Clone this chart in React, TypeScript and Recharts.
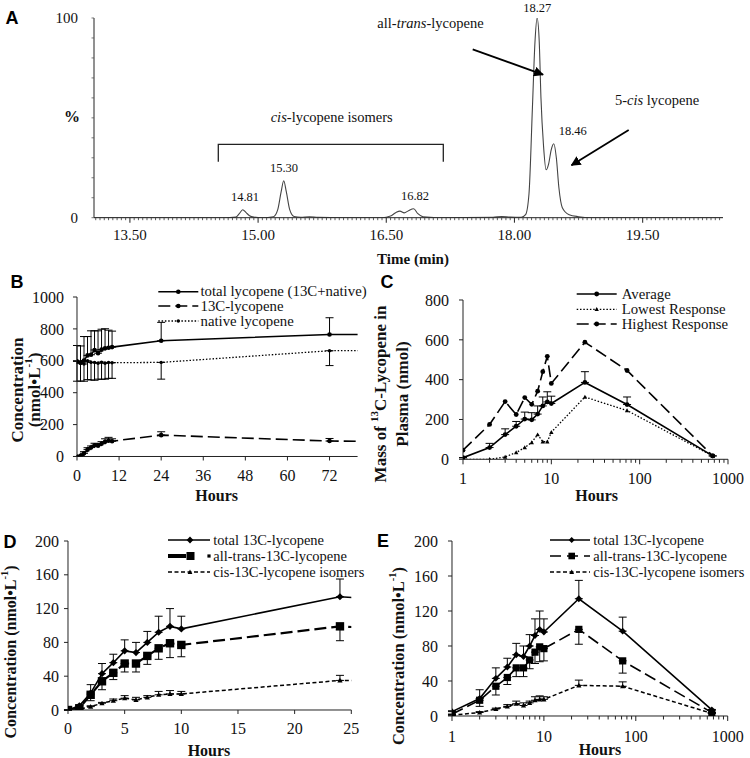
import React from 'react';
import { LineChart, Line, XAxis, YAxis, ErrorBar } from 'recharts';

const SERIF = '"Liberation Serif", "Times New Roman", serif';
const SANS = '"Liberation Sans", Arial, sans-serif';

// ---------- Panel A: chromatogram (time min, % intensity) ----------
const chromatogram: [number, number][] = [
  [13.08, 0], [14.6, 0], [14.74, 0.3], [14.78, 2], [14.82, 4], [14.86, 2.5], [14.9, 1], [14.95, 0.3],
  [15.05, 0], [15.18, 0.5], [15.23, 4], [15.27, 13], [15.3, 18.5], [15.33, 13], [15.37, 4], [15.42, 0.6],
  [15.5, 0.2], [15.6, 0.5], [15.7, 0.2], [16.0, 0], [16.45, 0], [16.55, 0.8], [16.61, 2.5], [16.66, 3.3],
  [16.71, 2.4], [16.76, 3.5], [16.82, 4.5], [16.87, 2], [16.93, 0.4], [17.1, 0], [17.75, 0.2], [17.85, 0.6],
  [17.95, 0.3], [18.08, 0.2], [18.13, 1.5], [18.17, 12], [18.21, 55], [18.24, 88], [18.265, 100], [18.29, 88],
  [18.31, 60], [18.34, 36], [18.37, 24], [18.4, 27], [18.43, 34], [18.46, 37], [18.49, 30], [18.52, 15],
  [18.56, 5], [18.64, 1.5], [18.75, 0.5], [18.9, 0], [20.44, 0],
];
const chromMajorTicks = [13.5, 15, 16.5, 18, 19.5];

// ---------- Panel B ----------
const hoursB = [0, 1, 2, 3, 4, 5, 6, 7, 8, 9, 10, 24, 72, 672];
const totalLyc = [596, 588, 602, 634, 638, 668, 648, 670, 678, 682, 686, 726, 765, 768];
const totalLycErrUp = [100, 105, 150, 118, 150, 120, 140, 128, 123, 110, 100, 115, 105, 0];
const c13Lyc = [0, 5, 20, 43, 56, 70, 68, 80, 92, 99, 96, 134, 97, 7];
const c13LycErrUp = [0, 1, 10, 12, 10, 13, 12, 13, 19, 21, 15, 21, 16, 0];
const nativeLyc = [600, 585, 580, 600, 590, 590, 585, 592, 585, 590, 588, 590, 663, 760];
const nativeLycErrDown = [128, 112, 108, 118, 110, 112, 100, 108, 100, 100, 98, 105, 93, 0];
const ticksB_X = [0, 12, 24, 36, 48, 60, 72];
const ticksB_Y = [0, 200, 400, 600, 800, 1000];

// ---------- Panel C ----------
const hoursC = [1, 2, 3, 4, 5, 6, 7, 8, 9, 10, 24, 72, 672];
const avgMass = [8, 59, 124, 166, 202, 198, 227, 268, 288, 280, 386, 275, 17];
const avgMassErrUp = [0, 21, 29, 24, 35, 36, 41, 45, 51, 37, 54, 38, 0];
const lowMass = [0, 0, 12, 34, 59, 85, 124, 88, 88, 136, 313, 245, 17];
const highMass = [46, 175, 290, 225, 310, 276, 342, 440, 517, 381, 588, 446, 17];
const ticksC_Y = [0, 200, 400, 600, 800];

// ---------- Panels D & E ----------
const hoursDE = [0, 1, 2, 3, 4, 5, 6, 7, 8, 9, 10, 24, 72, 672];
const total13C = [0, 5, 20, 43, 56, 70, 68, 80, 92, 99, 96, 134, 97, 7];
const total13CErrUp = [0, 1, 10, 12, 10, 13, 12, 13, 19, 21, 15, 21, 16, 0];
const allTrans13C = [0, 2, 18, 34, 44, 55, 55, 64, 73, 79, 77, 99, 63, 4];
const allTrans13CErrDown = [0, 0, 7, 10, 8, 10, 10, 10, 13, 17, 14, 17, 14, 0];
const cis13C = [0, 1, 4, 8, 11, 14, 12, 15, 18, 19, 19, 35, 34, 3];
const cis13CErrUp = [0, 0, 1, 1, 2, 3, 3, 2, 4, 4, 3, 6, 5, 0];
const ticksD_X = [0, 5, 10, 15, 20, 25];
const ticksDE_Y = [0, 40, 80, 120, 160, 200];
const logMajor = [1, 10, 100, 1000];

// ---------- derived tables ----------
const chromData = chromatogram.map(([t, p]) => ({ t, p }));
const chromTicksX: number[] = [];
for (let k = 262; k <= 408; k++) chromTicksX.push(k / 20);
const chromTicksY: number[] = [];
for (let k = 0; k <= 100; k += 10) chromTicksY.push(k);
const logTicks: number[] = [];
[1, 10, 100].forEach((d) => { for (let m = 1; m <= 9; m++) logTicks.push(d * m); });
logTicks.push(1000);

const dataB = hoursB.map((h, i) => ({
  h,
  total: totalLyc[i], totalErr: [0, totalLycErrUp[i]],
  c13: c13Lyc[i], c13Err: [0, c13LycErrUp[i]],
  native: nativeLyc[i], nativeErr: [nativeLycErrDown[i], 0],
}));
const dataC = hoursC.map((h, i) => ({
  h, avg: avgMass[i], avgErr: [0, avgMassErrUp[i]], low: lowMass[i], high: highMass[i],
}));
const dataD = hoursDE.map((h, i) => ({
  h,
  total: total13C[i], totalErr: [0, total13CErrUp[i]],
  trans: allTrans13C[i], transErr: [allTrans13CErrDown[i], 0],
  cis: cis13C[i], cisErr: [0, cis13CErrUp[i]],
}));
const dataE = dataD.filter((d) => d.h > 0);

// ---------- helpers ----------
type Shape = 'circle' | 'diamond' | 'square' | 'triangle';
function shapeEl(shape: Shape, cx: number, cy: number, s: number) {
  if (shape === 'circle') return <circle cx={cx} cy={cy} r={s} fill="#000" />;
  if (shape === 'diamond')
    return <path d={`M${cx},${cy - s}L${cx + s},${cy}L${cx},${cy + s}L${cx - s},${cy}Z`} fill="#000" />;
  if (shape === 'square') return <rect x={cx - s} y={cy - s} width={2 * s} height={2 * s} fill="#000" />;
  return <path d={`M${cx},${cy - s}L${cx + s},${cy + s * 0.8}L${cx - s},${cy + s * 0.8}Z`} fill="#000" />;
}
const mkDot = (shape: Shape, s: number, maxX: number) => (props: any) => {
  const { cx, cy, index, payload } = props;
  if (cx == null || cy == null || !payload || payload.h > maxX) return <g key={`d${index}`} />;
  return <g key={`d${index}`}>{shapeEl(shape, cx, cy, s)}</g>;
};

const WY = 60, HX = 34, MT = 12, MR = 16;
function Panel(props: { px0: number; px1: number; py0: number; py1: number; data: any[]; children: any }) {
  const { px0, px1, py0, py1, data, children } = props;
  const width = px1 - px0 + WY + MR;
  const height = py1 - py0 + MT + HX;
  return (
    <div style={{ position: 'absolute', left: px0 - WY, top: py0 - MT }}>
      <LineChart width={width} height={height} data={data} margin={{ top: MT, right: MR, bottom: 0, left: 0 }}>
        {children}
      </LineChart>
    </div>
  );
}

const AX = { stroke: '#222', strokeWidth: 1 };
const tickFont = { fontSize: 16, fill: '#111', fontFamily: SERIF };

const ChromTickX = (p: any) => {
  const v = p.payload.value;
  const major = chromMajorTicks.some((m) => Math.abs(m - v) < 1e-6);
  return (
    <g>
      <line x1={p.x} x2={p.x} y1={p.y} y2={p.y + (major ? 5 : 2.5)} stroke="#333" strokeWidth={major ? 1.1 : 0.8} />
      {major && (
        <text x={p.x} y={p.y + 22.5} textAnchor="middle" fontSize={15} fontFamily={SERIF} fill="#111">
          {v.toFixed(2)}
        </text>
      )}
    </g>
  );
};
const ChromTickY = (p: any) => {
  const v = p.payload.value;
  const lab = v === 0 || v === 100;
  return (
    <g>
      <line x1={p.x - 2.5} x2={p.x} y1={p.y} y2={p.y} stroke="#555" strokeWidth={0.8} />
      {lab && (
        <text x={p.x - 16} y={p.y + 5} textAnchor="end" fontSize={15} fontFamily={SERIF} fill="#111">
          {v}
        </text>
      )}
    </g>
  );
};
const mkLogTick = (off: number) => (p: any) => {
  const v = p.payload.value;
  const major = logMajor.includes(v);
  return (
    <g>
      <line x1={p.x} x2={p.x} y1={p.y} y2={p.y + (major ? 5 : 3.5)} stroke="#222" strokeWidth={1} />
      {major && (
        <text x={p.x} y={p.y + off} textAnchor="middle" fontSize={16} fontFamily={SERIF} fill="#111">
          {v}
        </text>
      )}
    </g>
  );
};

function LegendRow(p: { x1: number; x2: number; xm: number; xt: number; y: number; dash?: string; sw?: number; shape: Shape; s: number; label: string; fs?: number }) {
  return (
    <g>
      <line x1={p.x1} x2={p.x2} y1={p.y} y2={p.y} stroke="#000" strokeWidth={p.sw ?? 1.6} strokeDasharray={p.dash} />
      {shapeEl(p.shape, p.xm, p.y, p.s)}
      <text x={p.xt} y={p.y + 4.5} fontSize={p.fs ?? 14.8} fontFamily={SERIF} fill="#111">{p.label}</text>
    </g>
  );
}

function VText(p: { x: number; y: number; children: any; fs?: number }) {
  return (
    <text x={p.x} y={p.y} transform={`rotate(-90 ${p.x} ${p.y})`} textAnchor="middle" dominantBaseline="central"
      fontSize={p.fs ?? 17} fontWeight="bold" fontFamily={SERIF} fill="#111">
      {p.children}
    </text>
  );
}

const DASH = '12 5';
const SHORT = '4 2.5';
const DOT = '1.5 1.8';

export default function App() {
  return (
    <div style={{ position: 'absolute', left: 0, top: 0, width: 750, height: 758, background: '#fff', overflow: 'hidden' }}>
      {/* Panel A */}
      <Panel px0={94.3} px1={723.3} py0={18.3} py1={218} data={chromData}>
        <XAxis type="number" dataKey="t" domain={[13.08, 20.44]} ticks={chromTicksX} interval={0} tickSize={0} tickMargin={0}
          tickLine={false} axisLine={AX} tick={ChromTickX} height={HX} allowDataOverflow />
        <YAxis type="number" domain={[0, 100]} ticks={chromTicksY} interval={0} tickSize={0} tickMargin={0}
          tickLine={false} axisLine={AX} tick={ChromTickY} width={WY} allowDataOverflow />
        <Line type="monotone" dataKey="p" stroke="#444" strokeWidth={1.1} dot={false} isAnimationActive={false} />
      </Panel>

      {/* Panel B */}
      <Panel px0={76.7} px1={357.3} py0={296.5} py1={456} data={dataB}>
        <XAxis type="number" dataKey="h" domain={[0, 80]} ticks={ticksB_X} interval={0} tickSize={4} tickMargin={9}
          tick={tickFont} axisLine={AX} tickLine={AX} height={HX} allowDataOverflow />
        <YAxis type="number" domain={[0, 1000]} ticks={ticksB_Y} interval={0} tickSize={4} tickMargin={9}
          tick={tickFont} axisLine={AX} tickLine={AX} width={WY} allowDataOverflow />
        <Line dataKey="native" stroke="#000" strokeWidth={1.3} strokeDasharray={DOT} dot={mkDot('circle', 1.7, 80)} isAnimationActive={false}>
          <ErrorBar dataKey="nativeErr" width={4} stroke="#000" strokeWidth={1} direction="y" />
        </Line>
        <Line dataKey="c13" stroke="#000" strokeWidth={1.6} strokeDasharray={DASH} dot={mkDot('circle', 2.3, 80)} isAnimationActive={false}>
          <ErrorBar dataKey="c13Err" width={4} stroke="#000" strokeWidth={1} direction="y" />
        </Line>
        <Line dataKey="total" stroke="#000" strokeWidth={1.6} dot={mkDot('circle', 2.3, 80)} isAnimationActive={false}>
          <ErrorBar dataKey="totalErr" width={4} stroke="#000" strokeWidth={1} direction="y" />
        </Line>
      </Panel>

      {/* Panel C */}
      <Panel px0={463.3} px1={728.3} py0={300} py1={459.3} data={dataC}>
        <XAxis type="number" dataKey="h" scale="log" domain={[1, 1000]} ticks={logTicks} interval={0} tickSize={0} tickMargin={0}
          tickLine={false} tick={mkLogTick(24.6)} axisLine={AX} height={HX} allowDataOverflow />
        <YAxis type="number" domain={[0, 800]} ticks={ticksC_Y} interval={0} tickSize={4} tickMargin={10}
          tick={tickFont} axisLine={AX} tickLine={AX} width={WY} allowDataOverflow />
        <Line dataKey="low" stroke="#000" strokeWidth={1.3} strokeDasharray={DOT} dot={mkDot('triangle', 2.2, 1000)} isAnimationActive={false} />
        <Line dataKey="high" stroke="#000" strokeWidth={1.6} strokeDasharray={DASH} dot={mkDot('circle', 2.4, 1000)} isAnimationActive={false} />
        <Line dataKey="avg" stroke="#000" strokeWidth={1.6} dot={mkDot('circle', 2.4, 1000)} isAnimationActive={false}>
          <ErrorBar dataKey="avgErr" width={4} stroke="#000" strokeWidth={1} direction="y" />
        </Line>
      </Panel>

      {/* Panel D */}
      <Panel px0={67.7} px1={351} py0={541} py1={710} data={dataD}>
        <XAxis type="number" dataKey="h" domain={[0, 25]} ticks={ticksD_X} interval={0} tickSize={4} tickMargin={9}
          tick={tickFont} axisLine={AX} tickLine={AX} height={HX} allowDataOverflow />
        <YAxis type="number" domain={[0, 200]} ticks={ticksDE_Y} interval={0} tickSize={4} tickMargin={5}
          tick={tickFont} axisLine={AX} tickLine={AX} width={WY} allowDataOverflow />
        <Line dataKey="cis" stroke="#000" strokeWidth={1.5} strokeDasharray={SHORT} dot={mkDot('triangle', 2.6, 25)} isAnimationActive={false}>
          <ErrorBar dataKey="cisErr" width={4} stroke="#000" strokeWidth={1} direction="y" />
        </Line>
        <Line dataKey="trans" stroke="#000" strokeWidth={2.2} strokeDasharray={DASH} dot={mkDot('square', 4.2, 25)} isAnimationActive={false}>
          <ErrorBar dataKey="transErr" width={4} stroke="#000" strokeWidth={1} direction="y" />
        </Line>
        <Line dataKey="total" stroke="#000" strokeWidth={1.6} dot={mkDot('diamond', 3.6, 25)} isAnimationActive={false}>
          <ErrorBar dataKey="totalErr" width={4} stroke="#000" strokeWidth={1} direction="y" />
        </Line>
      </Panel>

      {/* Panel E */}
      <Panel px0={452} px1={727.7} py0={541} py1={716} data={dataE}>
        <XAxis type="number" dataKey="h" scale="log" domain={[1, 1000]} ticks={logTicks} interval={0} tickSize={0} tickMargin={0}
          tickLine={false} tick={mkLogTick(26.3)} axisLine={AX} height={HX} allowDataOverflow />
        <YAxis type="number" domain={[0, 200]} ticks={ticksDE_Y} interval={0} tickSize={4} tickMargin={10}
          tick={tickFont} axisLine={AX} tickLine={AX} width={WY} allowDataOverflow />
        <Line dataKey="cis" stroke="#000" strokeWidth={1.5} strokeDasharray={SHORT} dot={mkDot('triangle', 2.6, 1000)} isAnimationActive={false}>
          <ErrorBar dataKey="cisErr" width={4} stroke="#000" strokeWidth={1} direction="y" />
        </Line>
        <Line dataKey="trans" stroke="#000" strokeWidth={1.6} strokeDasharray={DASH} dot={mkDot('square', 3.6, 1000)} isAnimationActive={false}>
          <ErrorBar dataKey="transErr" width={4} stroke="#000" strokeWidth={1} direction="y" />
        </Line>
        <Line dataKey="total" stroke="#000" strokeWidth={1.6} dot={mkDot('diamond', 3.4, 1000)} isAnimationActive={false}>
          <ErrorBar dataKey="totalErr" width={4} stroke="#000" strokeWidth={1} direction="y" />
        </Line>
      </Panel>

      {/* Overlay: titles, legends, annotations */}
      <svg width={750} height={758} style={{ position: 'absolute', left: 0, top: 0, pointerEvents: 'none' }}>
        <defs>
          <marker id="arrowHead" viewBox="0 0 10 10" refX="9" refY="5" markerWidth="5.5" markerHeight="5.5" orient="auto-start-reverse" markerUnits="strokeWidth">
            <path d="M0,0 L10,5 L0,10 Z" fill="#000" />
          </marker>
        </defs>
        {/* panel letters */}
        <g fontFamily={SANS} fontWeight="bold" fontSize={18} fill="#000">
          <text x={12} y={24} textAnchor="middle">A</text>
          <text x={17} y={288} textAnchor="middle">B</text>
          <text x={387} y={288} textAnchor="middle">C</text>
          <text x={10} y={548} textAnchor="middle">D</text>
          <text x={383} y={547} textAnchor="middle">E</text>
        </g>

        {/* Panel A annotations */}
        <text x={72} y={122} textAnchor="middle" fontFamily={SERIF} fontWeight="bold" fontSize={16} fill="#111">%</text>
        <text x={413} y={264} textAnchor="middle" fontFamily={SERIF} fontWeight="bold" fontSize={15} fill="#111">Time (min)</text>
        <g fontFamily={SERIF} fontSize={12.5} fill="#111" textAnchor="middle">
          <text x={537.3} y={11.5}>18.27</text>
          <text x={572.7} y={134.5}>18.46</text>
          <text x={284} y={172}>15.30</text>
          <text x={245} y={201}>14.81</text>
          <text x={415} y={200}>16.82</text>
        </g>
        <g fontFamily={SERIF} fontSize={14.5} fill="#111" textAnchor="middle">
          <text x={430.5} y={27.5}>all-<tspan fontStyle="italic">trans</tspan>-lycopene</text>
          <text x={657} y={105}>5-<tspan fontStyle="italic">cis</tspan> lycopene</text>
          <text x={331.7} y={121.5}><tspan fontStyle="italic">cis</tspan>-lycopene isomers</text>
        </g>
        <path d="M218.3,161.7 V144.3 H443.3 V161.7" fill="none" stroke="#222" strokeWidth={1.3} />
        <line x1={472.7} y1={49.3} x2={543} y2={74.6} stroke="#000" strokeWidth={1.8} markerEnd="url(#arrowHead)" />
        <line x1={628.7} y1={130} x2={571.5} y2={165.2} stroke="#000" strokeWidth={1.8} markerEnd="url(#arrowHead)" />

        {/* Panel B titles & legend */}
        <VText x={17} y={390}>Concentration</VText>
        <VText x={34} y={390}>(nmol•L<tspan dy={-6} fontSize={11}>-1</tspan><tspan dy={6}>)</tspan></VText>
        <text x={216.7} y={500.5} textAnchor="middle" fontFamily={SERIF} fontWeight="bold" fontSize={16} fill="#111">Hours</text>
        <LegendRow x1={158.3} x2={198.3} xm={178.3} xt={200.5} y={291.7} shape="circle" s={2.3} label="total lycopene (13C+native)" />
        <LegendRow x1={158.3} x2={198.3} xm={178.3} xt={200.5} y={306} dash={DASH} shape="circle" s={2.3} label="13C-lycopene" />
        <LegendRow x1={158.3} x2={198.3} xm={178.3} xt={200.5} y={321} dash={DOT} sw={1.3} shape="circle" s={1.7} label="native lycopene" />

        {/* Panel C titles & legend */}
        <VText x={380} y={394}>Mass of <tspan dy={-6} fontSize={11}>13</tspan><tspan dy={6}>C-Lycopene in</tspan></VText>
        <VText x={402} y={394}>Plasma (nmol)</VText>
        <text x={596.7} y={500.5} textAnchor="middle" fontFamily={SERIF} fontWeight="bold" fontSize={16} fill="#111">Hours</text>
        <LegendRow x1={576.7} x2={616.7} xm={596.7} xt={621.7} y={294} shape="circle" s={2.4} label="Average" />
        <LegendRow x1={576.7} x2={616.7} xm={596.7} xt={621.7} y={309.3} dash={DOT} sw={1.3} shape="triangle" s={2.2} label="Lowest Response" />
        <LegendRow x1={576.7} x2={616.7} xm={596.7} xt={621.7} y={324} dash={DASH} shape="circle" s={2.4} label="Highest Response" />

        {/* Panel D titles & legend */}
        <VText x={10} y={652} fs={16}>Concentration (nmol•L<tspan dy={-6} fontSize={10.5}>-1</tspan><tspan dy={6}>)</tspan></VText>
        <text x={209} y={755.5} textAnchor="middle" fontFamily={SERIF} fontWeight="bold" fontSize={16} fill="#111">Hours</text>
        <LegendRow x1={168} x2={210} xm={190} xt={213.3} y={540} shape="diamond" s={3.4} label="total 13C-lycopene" fs={14.5} />
        <g>
          <line x1={168} x2={186} y1={556} y2={556} stroke="#000" strokeWidth={4} />
          {shapeEl('square', 190.5, 556, 4)}
          {shapeEl('square', 209, 556, 1.6)}
          <text x={213.3} y={560.5} fontSize={14.5} fontFamily={SERIF} fill="#111">all-trans-13C-lycopene</text>
        </g>
        <LegendRow x1={168} x2={210} xm={190} xt={213.3} y={572} dash={SHORT} sw={1.4} shape="triangle" s={2.4} label="cis-13C-lycopene isomers" fs={14.5} />

        {/* Panel E titles & legend */}
        <VText x={398} y={656} fs={16.5}>Concentration (nmol•L<tspan dy={-6} fontSize={10.5}>-1</tspan><tspan dy={6}>)</tspan></VText>
        <text x={600} y={755} textAnchor="middle" fontFamily={SERIF} fontWeight="bold" fontSize={16} fill="#111">Hours</text>
        <LegendRow x1={550} x2={590} xm={571.7} xt={593.3} y={540} shape="diamond" s={3} label="total 13C-lycopene" fs={14.5} />
        <LegendRow x1={550} x2={590} xm={571.7} xt={593.3} y={556} dash="11 6" shape="square" s={3.3} label="all-trans-13C-lycopene" fs={14.5} />
        <LegendRow x1={550} x2={590} xm={571.7} xt={593.3} y={572} dash={SHORT} sw={1.4} shape="triangle" s={2.4} label="cis-13C-lycopene isomers" fs={14.5} />
      </svg>
    </div>
  );
}
